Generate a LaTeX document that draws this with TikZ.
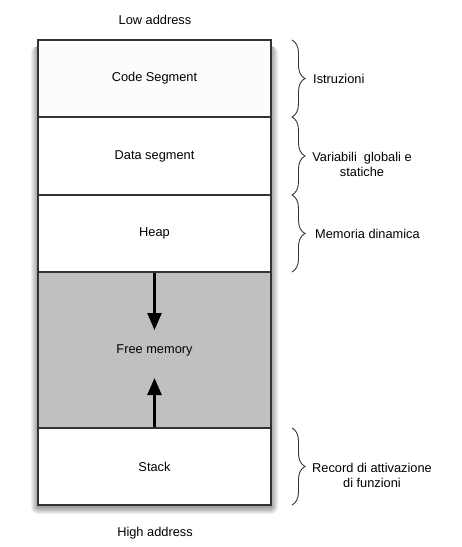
\documentclass[tikz,border=0pt]{standalone}
\usepackage{fontspec}
\setmainfont{Liberation Sans}
\usetikzlibrary{arrows.meta,decorations.pathreplacing}
\definecolor{framegray}{HTML}{333333}
\definecolor{freegray}{HTML}{C0C0C0}
\definecolor{codewhite}{HTML}{FCFCFF}
\tikzset{
	segment/.style={shape=rectangle, draw=framegray, line width=1.1pt, minimum width=233pt, inner sep=0pt, font=\fontsize{12.8}{16.5}\selectfont},
	growarrow/.style={line width=2.6pt, -{Triangle[length=17pt,width=14pt]}},
	bracket/.style={decorate, decoration={brace, amplitude=13pt, aspect=0.5}, line width=0.9pt, draw=framegray},
	note/.style={font=\fontsize{12.8}{15}\selectfont, align=center}
}
\begin{document}
\begin{tikzpicture}[x=1pt, y=-1pt]
	\useasboundingbox (0,0) rectangle (462,547);
	% Soft shadow under the frame
	\foreach \r in {0,1,...,7}
		\fill[black, opacity=0.06, rounded corners=\r pt] (38-\r, 46) rectangle (271+\r, 507+\r);
	% Frame
	\node[shape=rectangle, draw=framegray, fill=white, line width=1.1pt, minimum width=233pt, minimum height=465pt] (frame) at (154.5, 272.5) {};
	% Memory segments
	\node[segment, fill=codewhite, minimum height=77pt] (code) at (154.5, 78.5) {Code Segment};
	\node[segment, fill=white, minimum height=78pt] (data) at (154.5, 156) {Data segment};
	\node[segment, fill=white, minimum height=77pt] (heap) at (154.5, 233.5) {Heap};
	\node[segment, fill=freegray, minimum height=156pt] (free) at (154.5, 350) {Free memory};
	\node[segment, fill=white, minimum height=77pt] (stack) at (154.5, 466.5) {Stack};
	% Growth arrows
	\coordinate (heapend) at (154.5, 330);
	\coordinate (stackend) at (154.5, 378);
	\draw[growarrow] (heap.south) -- (heapend);
	\draw[growarrow] (stack.north) -- (stackend);
	% Addresses
	\node[note] (low) at (155, 20) {Low address};
	\node[note] (high) at (155, 533) {High address};
	% Braces on the right
	\draw[bracket] (292, 40) -- (292, 117);
	\draw[bracket] (292, 117) -- (292, 195);
	\draw[bracket] (292, 195) -- (292, 272);
	\draw[bracket] (292, 428) -- (292, 505);
	% Brace labels
	\node[note, anchor=west, inner sep=0pt] (instr) at (313, 78.5) {Istruzioni};
	\node[note] (vars) at (362, 164) {Variabili\ \ globali e\\statiche};
	\node[note, anchor=west, inner sep=0pt] (dyn) at (315, 233.5) {Memoria dinamica};
	\node[note] (record) at (372, 475) {Record di attivazione\\di funzioni};
\end{tikzpicture}
\end{document}
